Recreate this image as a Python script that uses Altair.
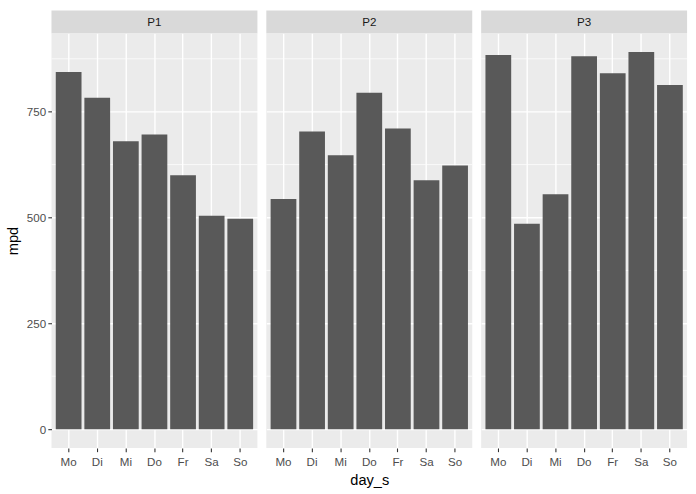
import altair as alt
import pandas as pd

days = ["Mo", "Di", "Mi", "Do", "Fr", "Sa", "So"]
panels = ["P1", "P2", "P3"]
p1_mpd = [844, 783, 680, 696, 600, 504, 497]
p2_mpd = [544, 703, 647, 795, 710, 588, 623]
p3_mpd = [884, 485, 555, 881, 841, 891, 813]
major_ticks = [0, 250, 500, 750]
minor_ticks = [125, 375, 625, 875]

series = {"P1": p1_mpd, "P2": p2_mpd, "P3": p3_mpd}
all_vals = p1_mpd + p2_mpd + p3_mpd
vmax = max(all_vals)
vmin = 0
ext = 0.05 * (vmax - vmin)
ydomain = [vmin - ext, vmax + ext]

FONT = "Liberation Sans"
W = 208
H = 419
STRIP = 23

minor_df = pd.DataFrame({"v": minor_ticks})


def panel(name, idx):
    df = pd.DataFrame({"day_s": days, "mpd": series[name]})
    if idx == 0:
        yaxis = alt.Axis(values=major_ticks, title="mpd", grid=True, gridColor="white",
                         gridWidth=1.4, domain=False, tickColor="#333333", tickSize=3.7,
                         tickWidth=1.1, labelColor="#4D4D4D", labelFontSize=11.7, labelFont=FONT,
                         labelPadding=2.2, titleFont=FONT, titleFontSize=14.7,
                         titleFontWeight="normal", titleColor="black", titlePadding=6)
    else:
        yaxis = alt.Axis(values=major_ticks, title=None, grid=True, gridColor="white",
                         gridWidth=1.4, domain=False, ticks=False, labels=False)
    xaxis = alt.Axis(title="day_s" if idx == 1 else None, grid=True, gridColor="white",
                     gridWidth=1.4, domain=False, tickColor="#333333", tickSize=3.7,
                     tickWidth=1.1, labelColor="#4D4D4D", labelFontSize=11.7, labelFont=FONT,
                     labelPadding=5, labelAngle=0, titleFont=FONT, titleFontSize=14.7,
                     titleFontWeight="normal", titleColor="black", titlePadding=4)
    yscale = alt.Scale(domain=ydomain, nice=False, zero=False)
    minor = alt.Chart(minor_df).mark_rule(color="white", strokeWidth=0.7).encode(
        y=alt.Y("v:Q", scale=yscale, axis=yaxis)
    )
    bars = alt.Chart(df).mark_bar(color="#595959").encode(
        x=alt.X("day_s:N", sort=days,
                scale=alt.Scale(paddingInner=0.1, paddingOuter=0.15), axis=xaxis),
        y=alt.Y("mpd:Q", scale=yscale, axis=yaxis),
    )
    sdf = pd.DataFrame({"panel": [name]})
    strip = alt.Chart(sdf).mark_rect(color="#D9D9D9").encode(
        x=alt.value(0), x2=alt.value(W), y=alt.value(-STRIP), y2=alt.value(0)
    )
    stext = alt.Chart(sdf).mark_text(font=FONT, fontSize=11.7, color="#1A1A1A",
                                     baseline="middle", align="center").encode(
        text="panel:N", x=alt.value(W / 2), y=alt.value(-STRIP / 2)
    )
    return alt.layer(minor, bars, strip, stext).properties(width=W, height=H)


chart = alt.hconcat(*[panel(p, i) for i, p in enumerate(panels)], spacing=7).properties(
    padding={"left": 5, "top": 8, "right": 8, "bottom": 5},
    background="white",
).configure_view(stroke=None, fill="#EBEBEB")

chart.save("out.html", embed_options={"renderer": "svg", "actions": False})
